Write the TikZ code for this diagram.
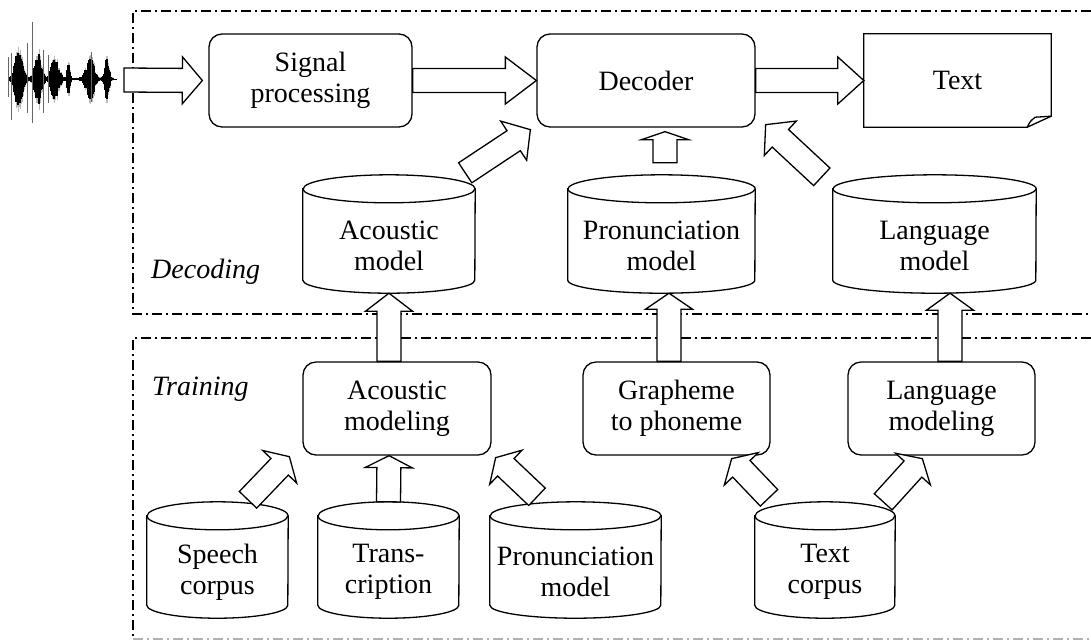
\documentclass[tikz,border=0pt]{standalone}
\usepackage{fontspec}
\setmainfont{Liberation Serif}
\usetikzlibrary{calc,positioning}

\tikzset{
  procbox/.style={draw, line width=1.3pt, rounded corners=13pt, align=center,
    font=\fontsize{28}{31}\selectfont, inner sep=0pt},
  dbtext/.style={align=center, font=\fontsize{28}{31}\selectfont, inner sep=0pt},
  dbline/.style={draw, line width=1.3pt, fill=white},
  blockarr/.style={draw, line width=1.3pt, fill=white, line join=miter},
  frame/.style={line width=1.2pt, dash pattern=on 10pt off 4pt on 2pt off 4pt},
  phase/.style={font=\fontsize{28}{31}\selectfont\itshape, anchor=base west, inner sep=0pt},
}

% cylinder: name, cx, cy, width, height, text
\newcommand{\dbcyl}[6]{%
  \node[minimum width=#4pt, minimum height=#5pt, inner sep=0pt] (#1) at (#2,#3) {};
  \draw[dbline] ([yshift=-14pt]#1.north west) -- ([yshift=13pt]#1.south west)
    arc[start angle=180, end angle=360, x radius=#4pt/2, y radius=13pt]
    -- ([yshift=-14pt]#1.north east)
    arc[start angle=0, end angle=180, x radius=#4pt/2, y radius=14pt] -- cycle;
  \draw[line width=1.3pt] ([yshift=-14pt]#1.north west)
    arc[start angle=180, end angle=360, x radius=#4pt/2, y radius=14pt];
  \node[dbtext] (#1-t) at ([yshift=-12pt]#1.center) {#6};
}

% block arrow: head length, tail, tip
\newcommand{\blockarrow}[3]{%
  \coordinate (ba-a) at #2;
  \coordinate (ba-b) at #3;
  \coordinate (ba-h) at ($(ba-b)!#1pt!(ba-a)$);
  \draw[blockarr] ($(ba-a)!12pt!90:(ba-b)$) -- ($(ba-h)!12pt!-90:(ba-a)$)
    -- ($(ba-h)!23.5pt!-90:(ba-a)$) -- (ba-b) -- ($(ba-h)!23.5pt!90:(ba-a)$)
    -- ($(ba-h)!12pt!90:(ba-a)$) -- ($(ba-a)!12pt!-90:(ba-b)$) -- cycle;
}

\begin{document}
\begin{tikzpicture}[x=1pt,y=-1pt]
  \useasboundingbox (0,0) rectangle (1091,641);
  \fill[white] (0,0) rectangle (1091,641);

  % frames
  \draw[frame] (1091,11) -- (133,11) -- (133,314) -- (1091,314);
  \draw[frame] (1091,338) -- (133,338) -- (133,639);
  \draw[frame, gray!60] (133,639) -- (1091,639);
  \node[phase] (declbl) at (151,278) {Decoding};
  \node[phase] (trnlbl) at (152,395) {Training};

  % waveform
  \pgfmathsetseed{7}
  \draw[line width=0.8pt] (8,79) -- (117,79);
  \foreach \x in {9,10,...,113} {
    \pgfmathsetmacro\env{30*exp(-((\x-19)/5.5)^2) + 25*exp(-((\x-38)/4.5)^2)
      + 22*exp(-((\x-55)/5)^2) + 16*exp(-((\x-68.5)/1.8)^2)
      + 21*exp(-((\x-90)/5.5)^2) + 24*exp(-((\x-107)/2.6)^2) + 1}
    \pgfmathsetmacro\h{\env*(0.55+0.45*rnd)}
    \draw[gray!55, line width=1pt] (\x,79-1.2*\h) -- (\x,79+1.25*\h);
    \draw[line width=1.1pt] (\x,79-\h) -- (\x,79+\h);
  }
  \foreach \x/\a/\b in {8/57/97, 11/53/120, 27/43/113, 32/22/123, 43/50/113, 48/55/103, 91/52/102}
    \draw[gray!80!black, line width=0.8pt] (\x,\a) -- (\x,\b);
  \coordinate (wave) at (124,80);

  % decoding
  \node[procbox, minimum width=203pt, minimum height=93pt] (sig) at (310.5,80.5) {Signal\\processing};
  \node[procbox, minimum width=218pt, minimum height=93pt] (dec) at (646,80.5) {Decoder};
  \node[dbtext, minimum width=187pt, minimum height=93pt] (txt) at (957.5,80.5) {Text};
  \draw[line width=1.3pt, line join=miter] (txt.north west) -- (txt.north east)
    -- ([yshift=11pt]txt.south east) -- ([xshift=-24pt]txt.south east) -- (txt.south west) -- cycle;
  \draw[line width=1.3pt] ([xshift=-24pt]txt.south east) .. controls ([xshift=-21pt,yshift=6pt]txt.south east)
    .. ([xshift=-16pt,yshift=10pt]txt.south east) -- ([yshift=11pt]txt.south east);

  \dbcyl{am}{389}{234}{172}{118}{Acoustic\\model}
  \dbcyl{pm}{661.5}{234}{187}{118}{Pronunciation\\model}
  \dbcyl{lm}{934.5}{234}{203}{118}{Language\\model}

  % training
  \node[procbox, minimum width=188pt, minimum height=93pt] (acmod) at (397,408.5) {Acoustic\\modeling};
  \node[procbox, minimum width=187pt, minimum height=93pt] (g2p) at (676.5,408.5) {Grapheme\\to phoneme};
  \node[procbox, minimum width=187pt, minimum height=93pt] (lmod) at (941.5,408.5) {Language\\modeling};

  \dbcyl{sc}{217.5}{560}{141}{116}{Speech\\corpus}
  \dbcyl{tr}{388.5}{560}{141}{116}{Trans-\\cription}
  \dbcyl{pmt}{575.5}{560}{171}{116}{Pronunciation\\model}
  \dbcyl{tc}{825}{560}{140}{116}{Text\\corpus}

  % arrows
  \blockarrow{20}{(wave)}{([xshift=-6pt]sig.west)}
  \blockarrow{31}{(sig.east)}{(dec.west)}
  \blockarrow{26}{(dec.east)}{(txt.west)}
  \blockarrow{20}{([xshift=-10pt,yshift=2pt]am.north east)}{([xshift=-6pt,yshift=-2pt]dec.south west)}
  \blockarrow{8}{([xshift=3.5pt,yshift=12pt]pm.north)}{([xshift=19pt,yshift=-4pt]dec.south)}
  \blockarrow{20}{([xshift=-11pt,yshift=-2pt]lm.north west)}{([xshift=10pt,yshift=3pt]dec.south east)}
  \blockarrow{18}{([xshift=-8pt]acmod.north)}{(am.south)}
  \blockarrow{16}{([xshift=-7.5pt]g2p.north)}{([xshift=7.5pt]pm.south)}
  \blockarrow{17}{([xshift=8.5pt]lmod.north)}{([xshift=15.5pt]lm.south)}
  \blockarrow{14}{([xshift=30.5pt,yshift=2pt]sc.north)}{([xshift=-13pt,yshift=-1pt]acmod.south west)}
  \blockarrow{12}{(tr.north)}{([xshift=-8pt]acmod.south)}
  \blockarrow{14}{([xshift=-38.5pt,yshift=5pt]pmt.north)}{([xshift=4pt,yshift=-2pt]acmod.south east)}
  \blockarrow{14}{([xshift=-56pt,yshift=4pt]tc.north)}{([xshift=-39pt,yshift=-3pt]g2p.south east)}
  \blockarrow{14}{([xshift=-12pt]tc.north east)}{([xshift=75pt,yshift=-3pt]lmod.south west)}
\end{tikzpicture}
\end{document}
